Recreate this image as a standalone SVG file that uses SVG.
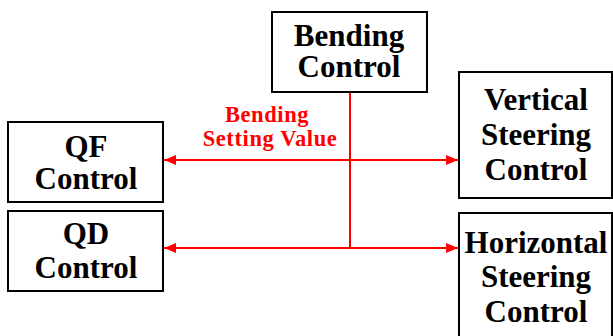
<svg xmlns="http://www.w3.org/2000/svg" width="613" height="336" viewBox="0 0 613 336">
<defs>
<style>
.box{fill:#fff;stroke:#000;stroke-width:2}
.t{font-family:"Liberation Serif","Times New Roman",serif;font-weight:bold;font-size:31px;fill:#000;text-anchor:middle}
.r{font-family:"Liberation Serif","Times New Roman",serif;font-weight:bold;font-size:22.5px;fill:#ff0000;text-anchor:middle;letter-spacing:0.6px}
.c{fill:none;stroke:#ff0000;stroke-width:2}
</style>
<marker id="ah" viewBox="0 0 12 10" refX="12" refY="5" markerWidth="12" markerHeight="10" markerUnits="userSpaceOnUse" orient="auto-start-reverse">
<path d="M0,0 L12,5 L0,10 Z" fill="#ff0000"/>
</marker>
</defs>
<rect width="613" height="336" fill="#fff"/>
<g id="connectors">
<line class="c" x1="350" y1="92" x2="350" y2="248"/>
<line class="c" x1="164" y1="160" x2="458" y2="160" marker-start="url(#ah)" marker-end="url(#ah)"/>
<line class="c" x1="164" y1="248" x2="458" y2="248" marker-start="url(#ah)" marker-end="url(#ah)"/>
<text class="r" x="267" y="122">Bending</text>
<text class="r" x="270" y="146">Setting Value</text>
</g>
<g id="bending">
<rect class="box" x="272" y="12" width="155" height="80"/>
<text class="t" x="349" y="46">Bending</text>
<text class="t" x="349" y="77">Control</text>
</g>
<g id="qf">
<rect class="box" x="8" y="122" width="155" height="80"/>
<text class="t" x="86" y="157">QF</text>
<text class="t" x="86" y="189">Control</text>
</g>
<g id="qd">
<rect class="box" x="8" y="211" width="155" height="80"/>
<text class="t" x="86" y="244">QD</text>
<text class="t" x="86" y="278">Control</text>
</g>
<g id="vertical">
<rect class="box" x="459" y="72" width="153" height="126"/>
<text class="t" x="536" y="110">Vertical</text>
<text class="t" x="536" y="145">Steering</text>
<text class="t" x="536" y="180">Control</text>
</g>
<g id="horizontal">
<rect class="box" x="459" y="213" width="153" height="130"/>
<text class="t" x="536" y="253">Horizontal</text>
<text class="t" x="536" y="287">Steering</text>
<text class="t" x="536" y="322">Control</text>
</g>
</svg>
